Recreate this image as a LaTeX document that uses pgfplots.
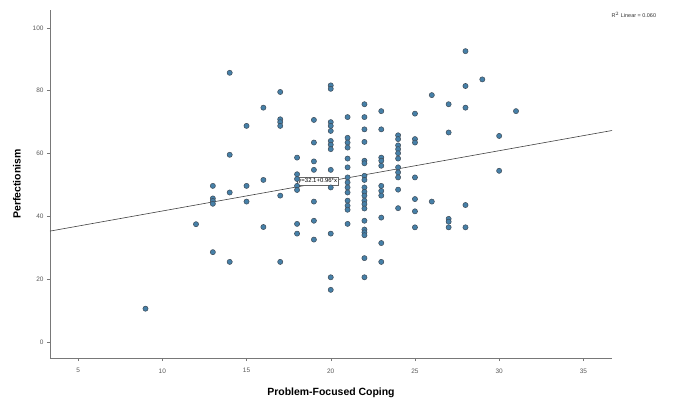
\documentclass[border=0pt]{standalone}
\usepackage{pgfplots}
\pgfplotsset{compat=1.18}
\usepackage{fontspec}
\setmainfont{Liberation Sans}
\definecolor{ptfill}{RGB}{70,128,168}
\definecolor{ptdraw}{RGB}{62,74,86}
\definecolor{axgray}{RGB}{120,120,120}
\begin{document}
\begin{tikzpicture}
\useasboundingbox (-50bp,-43bp) rectangle (630bp,358bp);
\begin{axis}[
  at={(0,0)}, anchor=south west,
  scale only axis, width=562bp, height=348bp,
  xmin=3.33, xmax=36.7, ymin=-5.1, ymax=105.7,
  axis lines=left, axis line style={axgray, line width=0.8pt, -},
  xtick={5,10,...,35}, ytick={0,20,...,100},
  tick align=outside, major tick length=3bp,
  tick style={axgray, line width=0.5pt},
  tick label style={font=\fontsize{6.5}{7}\selectfont, text=black!65},
  xticklabel style={yshift=-4bp},
  /pgf/number format/assume math mode=true,
  xlabel={\fontsize{10.5}{12}\selectfont\bfseries Problem-Focused Coping},
  ylabel={\fontsize{10.5}{12}\selectfont\bfseries Perfectionism},
  xlabel style={yshift=-8bp},
  ylabel style={yshift=5bp},
  clip=false,
]
\addplot[only marks, mark=*, mark size=2.6bp, mark options={fill=ptfill, draw=ptdraw, line width=0.5pt}] coordinates {
(9,10.6) (12,37.5)
(13,49.7) (13,45.7) (13,44.9) (13,44) (13,28.6)
(14,85.7) (14,59.6) (14,47.6) (14,25.5)
(15,68.8) (15,49.7) (15,44.7)
(16,74.6) (16,51.6) (16,36.6)
(17,79.6) (17,70.9) (17,70) (17,68.8) (17,46.6) (17,25.5)
(18,58.7) (18,53.4) (18,51.9) (18,49.7) (18,48.4) (18,37.6) (18,34.5)
(19,70.7) (19,63.5) (19,57.5) (19,54.8) (19,44.7) (19,38.6) (19,32.6)
(20,81.7) (20,80.6) (20,70) (20,68.8) (20,67.2) (20,64) (20,62.8) (20,61.4) (20,54.8) (20,49.2) (20,34.5) (20,20.6) (20,16.6)
(21,71.6) (21,65) (21,63.5) (21,61.9) (21,58.4) (21,55.6) (21,52.4) (21,50.8) (21,49.2) (21,47.6) (21,45) (21,43.4) (21,42.1) (21,37.6)
(22,75.7) (22,71.6) (22,67.7) (22,63.7) (22,57.7) (22,56.9) (22,52.9) (22,51.6) (22,49.2) (22,47.8) (22,46.6) (22,45) (22,43.9) (22,42.5) (22,38.6) (22,35.8) (22,34.9) (22,34) (22,26.7) (22,20.6)
(23,73.5) (23,67.7) (23,58.7) (23,57.7) (23,56.1) (23,49.7) (23,48.1) (23,46.6) (23,39.6) (23,31.5) (23,25.5)
(24,65.8) (24,64.6) (24,62.6) (24,61.4) (24,60.1) (24,58.4) (24,55.6) (24,54) (24,52.4) (24,48.5) (24,42.6)
(25,72.7) (25,64.6) (25,63.5) (25,52.4) (25,45.5) (25,41.6) (25,36.5)
(26,78.6) (26,44.7)
(27,75.7) (27,66.7) (27,39.2) (27,38.3) (27,36.5)
(28,92.6) (28,81.5) (28,74.6) (28,43.6) (28,36.5)
(29,83.6)
(30,65.6) (30,54.5)
(31,73.5)
};
\addplot[black!75, line width=0.6pt] coordinates {(3.33,35.3) (36.7,67.33)};
\node[draw=black!60, fill=white, line width=0.4pt, inner sep=1.2pt, anchor=west, font=\fontsize{6}{7}\selectfont] at (axis cs:18,51.3) {y=32.1+0.96*x};
\end{axis}
\node[anchor=west, font=\fontsize{5.5}{6}\selectfont, text=black!80] at (558bp,343bp) {R$^2$ Linear = 0.060};
\end{tikzpicture}
\end{document}
